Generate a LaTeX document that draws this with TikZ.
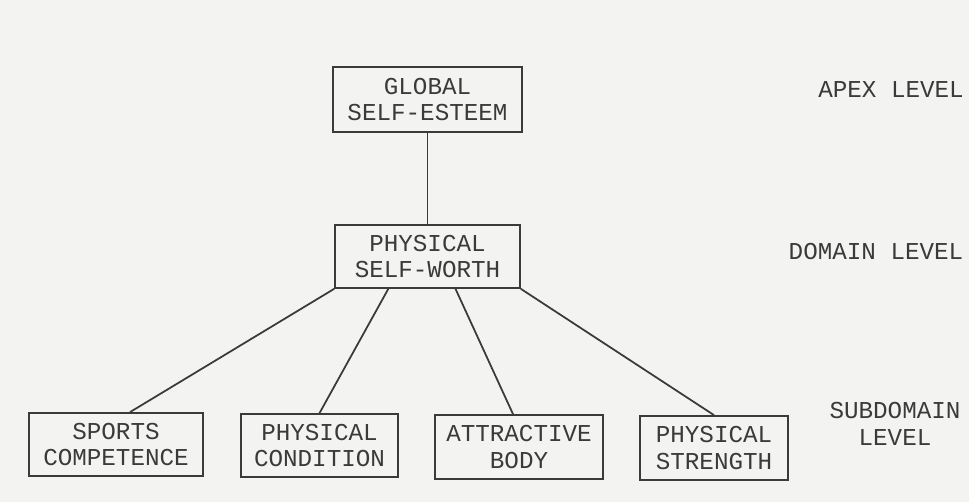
\documentclass[tikz,border=0pt]{standalone}
\usepackage{fontspec}
\setmainfont{Liberation Mono}
\usetikzlibrary{calc}
\definecolor{paper}{HTML}{F3F4F1}
\definecolor{ink}{HTML}{3A3A3A}
\tikzset{
  levelbox/.style={draw=ink, line width=1pt, align=center, inner sep=0pt, text=ink,
    font=\fontsize{13.8}{15.3}\selectfont},
  levellabel/.style={align=center, inner sep=0pt, text=ink,
    font=\fontsize{13.8}{15.3}\selectfont},
  link/.style={draw=ink, line width=1pt}
}
\begin{document}
\begin{tikzpicture}[x=0.02cm, y=-0.02cm]
\fill[paper] (0,0) rectangle (969,502);

% boxes
\node[levelbox, minimum width=3.78cm, minimum height=1.3cm] (global) at (427.5,99.5) {GLOBAL\\SELF-ESTEEM};
\node[levelbox, minimum width=3.7cm, minimum height=1.26cm] (domain) at (427.5,256.5) {PHYSICAL\\SELF-WORTH};

\node[levelbox, minimum width=3.48cm, minimum height=1.26cm] (sports) at (116,444.5) {SPORTS\\COMPETENCE};
\node[levelbox, minimum width=3.14cm, minimum height=1.26cm] (condition) at (319.5,445.5) {PHYSICAL\\CONDITION};
\node[levelbox, minimum width=3.36cm, minimum height=1.28cm] (attractive) at (519,447) {ATTRACTIVE\\BODY};
\node[levelbox, minimum width=2.96cm, minimum height=1.28cm] (strength) at (714,448) {PHYSICAL\\STRENGTH};

% level names
\node[levellabel] (apex) at (891,90) {APEX LEVEL};
\node[levellabel] (domainname) at (876,252) {DOMAIN LEVEL};
\node[levellabel] (subdomain) at (895,424) {SUBDOMAIN\\LEVEL};

% links
\draw[link] (global.south) -- (domain.north);
\draw[link] (domain.south west) -- ($(sports.north)+(14,0)$);
\draw[link] ($(domain.south west)!0.29!(domain.south east)$) -- (condition.north);
\draw[link] ($(domain.south west)!0.65!(domain.south east)$) -- ($(attractive.north)+(-6,0)$);
\draw[link] (domain.south east) -- (strength.north);
\end{tikzpicture}
\end{document}
